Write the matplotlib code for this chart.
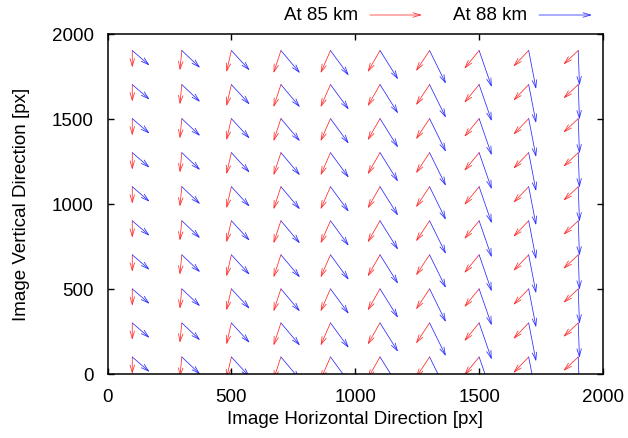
import matplotlib
matplotlib.use("Agg")
import matplotlib.pyplot as plt
from matplotlib.patches import FancyArrowPatch

plt.rcParams['font.family'] = ['Liberation Sans', 'DejaVu Sans']

# ---------------- DATA ----------------
# grid of start points (image pixels)
grid_x = [100, 300, 500, 700, 900, 1100, 1300, 1500, 1700, 1900]
grid_y = [100, 300, 500, 700, 900, 1100, 1300, 1500, 1700, 1900]

# displacement per column, same for every row
red_dx = [0, -8, -20, -30, -40, -50, -55, -60, -62, -60]
red_dy = [-100, -117, -127, -133, -133, -127, -121, -107, -94, -82]
blue_dx = [70, 74, 74, 77, 74, 73, 66, 51, 30, 5]
blue_dy = [-88, -102, -117, -133, -147, -170, -195, -215, -226, -205]

series = [
    ("At 85 km", "#ff2a2a", red_dx, red_dy),
    ("At 88 km", "#2a2aff", blue_dx, blue_dy),
]

ARROW = "->,head_length=0.55,head_width=0.16"

# ---------------- FIGURE ----------------
fig = plt.figure(figsize=(6.28, 4.39), dpi=100)
ax = fig.add_axes([107.5 / 628, 1 - 375 / 439, 495.5 / 628, 340.5 / 439])

for name, color, dxs, dys in series:
    for i, x in enumerate(grid_x):
        for y in grid_y:
            arr = FancyArrowPatch((x, y), (x + dxs[i], y + dys[i]),
                                  arrowstyle=ARROW, mutation_scale=10,
                                  color=color, lw=0.55,
                                  shrinkA=0, shrinkB=0)
            ax.add_patch(arr)

ax.set_xlim(0, 2000)
ax.set_ylim(0, 2000)
ax.set_xticks([0, 500, 1000, 1500, 2000])
ax.set_yticks([0, 500, 1000, 1500, 2000])
ax.tick_params(direction="in", top=True, right=True, length=4, width=1,
               labelsize=13.5, pad=10)
for s in ax.spines.values():
    s.set_linewidth(1.1)

ax.set_xlabel("Image Horizontal Direction [px]", fontsize=13.5)
ax.set_ylabel("Image Vertical Direction [px]", fontsize=13.5)
ax.xaxis.set_label_coords(0.5, -0.105)
ax.yaxis.set_label_coords(-0.157, 0.5)

# ---------------- KEY ----------------
key_y = 1 - 16 / 439
key_pos = [(358, 370, 422), (527, 539, 592)]
for (name, color, _, _), (tx, a0, a1) in zip(series, key_pos):
    fig.text(tx / 628, key_y, name, ha="right", va="center", fontsize=13.5)
    fig.add_artist(FancyArrowPatch((a0 / 628, key_y), (a1 / 628, key_y),
                                   transform=fig.transFigure,
                                   arrowstyle=ARROW, mutation_scale=10,
                                   color=color, lw=0.55,
                                   shrinkA=0, shrinkB=0))

fig.savefig("out.png", dpi=100)
